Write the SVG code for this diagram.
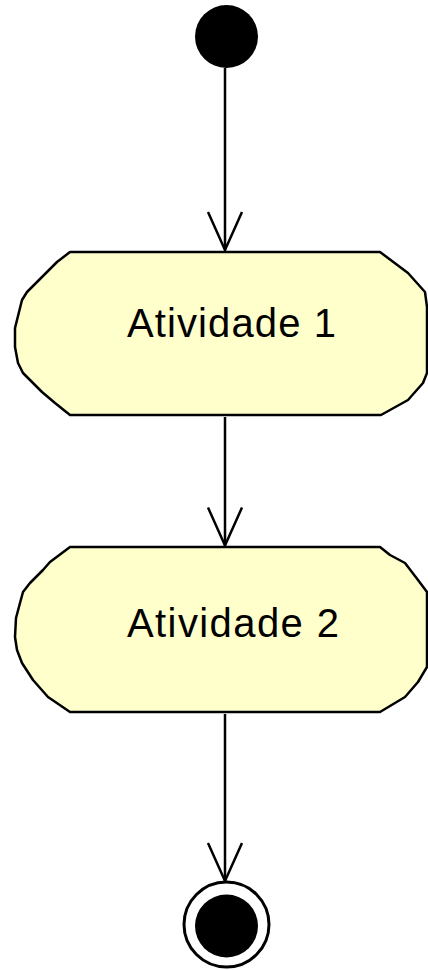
<svg xmlns="http://www.w3.org/2000/svg" width="428" height="970" viewBox="0 0 428 970">
  <style>
    .activity { fill: #ffffcc; stroke: #000000; stroke-width: 2.5; stroke-linejoin: round; }
    .label { font-family: "Liberation Sans", Arial, sans-serif; font-size: 40px; fill: #000000; }
    .flow { fill: none; stroke: #000000; stroke-width: 2.5; }
  </style>
  <defs>
    <marker id="open-arrow" markerUnits="userSpaceOnUse" orient="auto" refX="0" refY="0" markerWidth="50" markerHeight="50" overflow="visible">
      <path d="M -38 -17 L 0 0 L -38 17" fill="none" stroke="#000000" stroke-width="2.5"/>
    </marker>
  </defs>

  <!-- control flows -->
  <g id="connectors">
    <path class="flow" d="M 225 68 L 225 250" marker-end="url(#open-arrow)"/>
    <path class="flow" d="M 225 417 L 225 545.5" marker-end="url(#open-arrow)"/>
    <path class="flow" d="M 225 714 L 225 881" marker-end="url(#open-arrow)"/>
  </g>

  <!-- initial node -->
  <g id="initial">
    <circle cx="226.5" cy="36.5" r="31.5" fill="#000000"/>
  </g>

  <!-- Atividade 1 -->
  <g id="atividade1">
    <polygon class="activity" points="70,252 380,252 408,273 425,292 427,307 427,373 423,383 408,400 381,415 70,415 55,403 42,392 27,377 23,373 18,363 15,347 15,328 17,320 22,300 27,292 42,277 57,262"/>
    <text class="label" x="127" y="337" textLength="209" lengthAdjust="spacing">Atividade 1</text>
  </g>

  <!-- Atividade 2 -->
  <g id="atividade2">
    <polygon class="activity" points="70,547 380,547 390,555 405,563 418,580 427,592 427,667 418,682 405,697 380,712 70,712 48,697 33,680 22,663 17,650 15,637 16,618 20,603 23,592 30,583 43,570 50,562 62,553"/>
    <text class="label" x="127" y="637" textLength="212" lengthAdjust="spacing">Atividade 2</text>
  </g>

  <!-- final node -->
  <g id="final">
    <circle cx="226.5" cy="924.5" r="42.5" fill="#ffffff" stroke="#000000" stroke-width="3"/>
    <circle cx="226.5" cy="926" r="31.5" fill="#000000"/>
  </g>
</svg>
